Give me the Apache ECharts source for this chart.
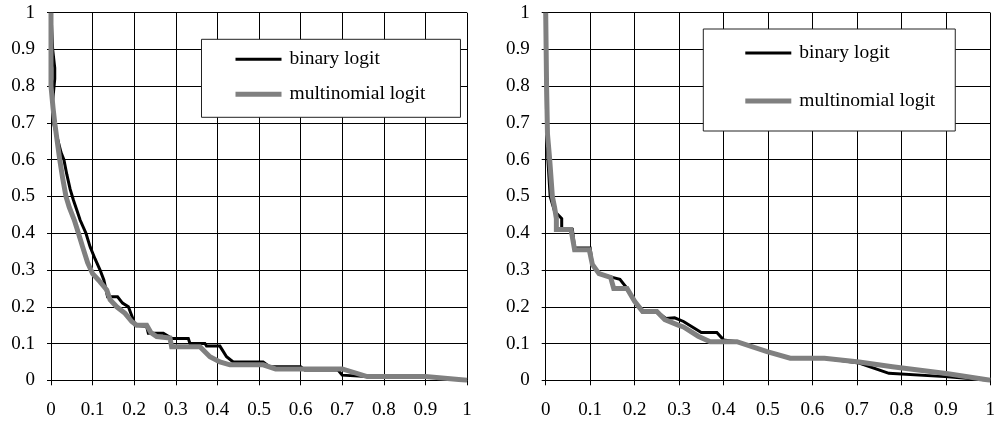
<!DOCTYPE html>
<html>
<head>
<meta charset="utf-8">
<script src="https://cdn.jsdelivr.net/npm/echarts@6/dist/echarts.min.js"></script>
<style>
html,body{margin:0;padding:0;background:#fff;}
#c{width:998px;height:422px;}
</style>
</head>
<body>
<div id="c"></div>
<script>
// ---- data (x, y) ----
var seriesNames = ['binary logit', 'multinomial logit'];

var leftBinary = [[0,1],[0.004,0.9],[0.009,0.85],[0.009,0.82],[0.004,0.76],[0.006,0.70],[0.015,0.66],[0.024,0.62],[0.031,0.60],[0.038,0.56],[0.046,0.52],[0.054,0.49],[0.063,0.46],[0.07,0.436],[0.084,0.40],[0.094,0.363],[0.106,0.33],[0.118,0.30],[0.127,0.273],[0.136,0.227],[0.16,0.227],[0.172,0.21],[0.186,0.20],[0.198,0.164],[0.202,0.15],[0.23,0.146],[0.234,0.128],[0.27,0.128],[0.29,0.114],[0.33,0.114],[0.334,0.10],[0.37,0.10],[0.374,0.093],[0.406,0.093],[0.422,0.064],[0.438,0.05],[0.51,0.05],[0.525,0.037],[0.6,0.037],[0.61,0.028],[0.69,0.028],[0.7,0.014],[0.76,0.01],[0.9,0.01],[1,0]];

var leftMultinomial = [[0,1],[0,0.8],[0.005,0.74],[0.009,0.70],[0.015,0.65],[0.021,0.60],[0.028,0.55],[0.036,0.50],[0.044,0.47],[0.056,0.436],[0.066,0.40],[0.076,0.363],[0.088,0.32],[0.1,0.29],[0.114,0.273],[0.134,0.246],[0.142,0.219],[0.158,0.20],[0.178,0.182],[0.194,0.16],[0.206,0.15],[0.23,0.15],[0.24,0.13],[0.254,0.119],[0.286,0.115],[0.29,0.091],[0.358,0.091],[0.382,0.064],[0.406,0.05],[0.43,0.042],[0.51,0.042],[0.54,0.031],[0.70,0.031],[0.76,0.01],[0.9,0.01],[1,0]];

var rightBinary = [[0,1],[0.002,0.7],[0.005,0.6],[0.01,0.5],[0.02,0.46],[0.036,0.44],[0.036,0.41],[0.06,0.41],[0.065,0.36],[0.1,0.36],[0.105,0.315],[0.12,0.29],[0.15,0.28],[0.167,0.275],[0.183,0.25],[0.2,0.215],[0.218,0.19],[0.25,0.187],[0.27,0.168],[0.29,0.17],[0.31,0.16],[0.35,0.13],[0.385,0.13],[0.4,0.11],[0.43,0.105],[0.498,0.078],[0.55,0.06],[0.627,0.06],[0.705,0.047],[0.772,0.019],[0.898,0.01],[1,0]];

var rightMultinomial = [[0,1],[0.002,0.8],[0.004,0.67],[0.009,0.60],[0.015,0.50],[0.02,0.47],[0.024,0.44],[0.024,0.41],[0.057,0.41],[0.065,0.355],[0.098,0.355],[0.105,0.315],[0.12,0.29],[0.146,0.28],[0.153,0.25],[0.183,0.25],[0.2,0.215],[0.218,0.187],[0.25,0.187],[0.268,0.165],[0.298,0.15],[0.31,0.145],[0.343,0.12],[0.37,0.105],[0.43,0.105],[0.498,0.078],[0.55,0.06],[0.627,0.06],[0.705,0.05],[0.78,0.037],[0.905,0.018],[1,0]];

// ---- chart ----
var FONT = '"Liberation Serif","Times New Roman",serif';
var chart = echarts.init(document.getElementById('c'), null, {renderer: 'canvas'});

function fmt(v) { return String(Math.round(v * 10) / 10); }
function xAxis(gi) {
  return {
    type: 'value', gridIndex: gi, min: 0, max: 1, interval: 0.1,
    axisLine: {show: true, onZero: false, lineStyle: {color: '#000', width: 1}},
    axisTick: {show: true, inside: false, length: 5, lineStyle: {color: '#000'}},
    splitLine: {show: true, lineStyle: {color: '#000', width: 1}},
    axisLabel: {color: '#000', fontFamily: FONT, fontSize: 19, margin: 20, formatter: fmt}
  };
}
function yAxis(gi) {
  return {
    type: 'value', gridIndex: gi, min: 0, max: 1, interval: 0.1,
    axisLine: {show: true, onZero: false, lineStyle: {color: '#000', width: 1}},
    axisTick: {show: true, inside: false, length: 4, lineStyle: {color: '#000'}},
    splitLine: {show: true, lineStyle: {color: '#000', width: 1}},
    axisLabel: {color: '#000', fontFamily: FONT, fontSize: 19, margin: 16, formatter: fmt}
  };
}
function lineSeries(name, data, gi, color, width, z) {
  return {
    type: 'line', name: name, xAxisIndex: gi, yAxisIndex: gi,
    data: data, showSymbol: false, symbol: 'none', animation: false, z: z,
    lineStyle: {color: color, width: width, join: 'miter'}, itemStyle: {color: color}
  };
}
var blackIcon = 'path://M0,0H0.01V5H0ZM0,1H46V4H0Z';
function legend(left, top, padding, gap) {
  return {
    left: left, top: top, orient: 'vertical',
    padding: padding, itemGap: gap, itemWidth: 46, itemHeight: 5,
    borderColor: '#222', borderWidth: 1, backgroundColor: '#fff',
    selectedMode: false,
    textStyle: {fontFamily: FONT, fontSize: 19.5, color: '#000', lineHeight: 22, padding: [0, 0, 0, 3]},
    data: [
      {name: seriesNames[0], icon: blackIcon, itemStyle: {color: '#000'}},
      {name: seriesNames[1], icon: 'rect', itemStyle: {color: '#808080'}}
    ]
  };
}

chart.setOption({
  animation: false,
  backgroundColor: '#fff',
  grid: [
    {left: 51, top: 12.7, width: 416, height: 367.6, containLabel: false},
    {left: 545.7, top: 12.7, width: 450.3, height: 367.6, containLabel: false}
  ],
  xAxis: [xAxis(0), xAxis(1)],
  yAxis: [yAxis(0), yAxis(1)],
  legend: [
    legend(201.5, 39.3, [9, 35, 12, 34], 13),
    legend(703.3, 29, [13, 20, 19, 42], 26)
  ],
  series: [
    lineSeries(seriesNames[0], leftBinary, 0, '#000', 3, 2),
    lineSeries(seriesNames[1], leftMultinomial, 0, '#808080', 5, 3),
    lineSeries(seriesNames[0], rightBinary, 1, '#000', 3, 2),
    lineSeries(seriesNames[1], rightMultinomial, 1, '#808080', 5, 3)
  ]
});
</script>
</body>
</html>
